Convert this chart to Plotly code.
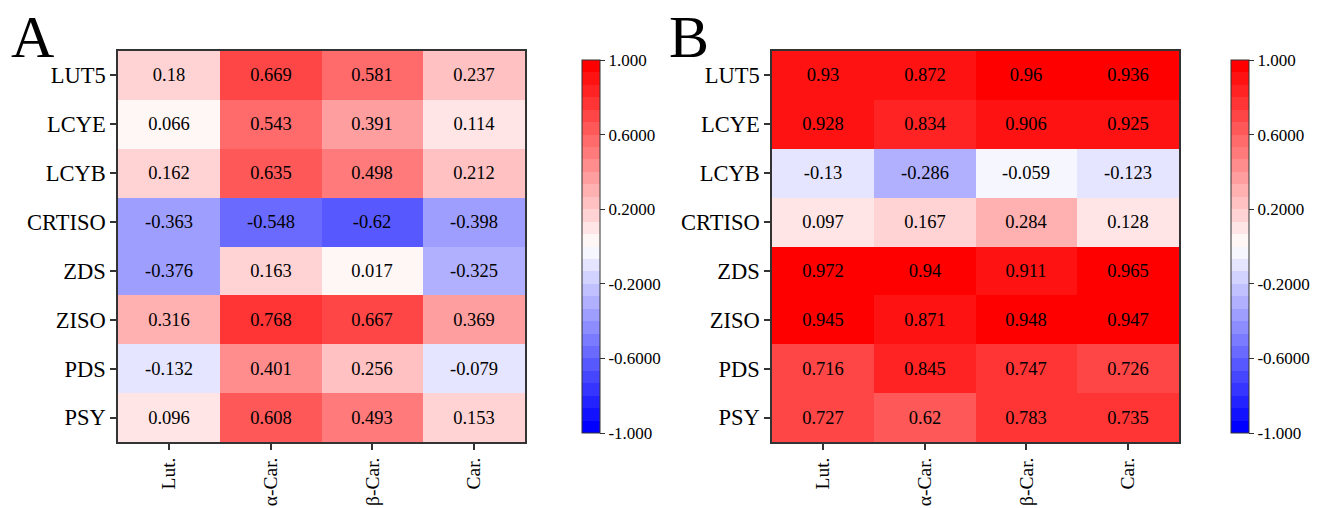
import plotly.graph_objects as go

genes = ["LUT5", "LCYE", "LCYB", "CRTISO", "ZDS", "ZISO", "PDS", "PSY"]
traits = ["Lut.", "α-Car.", "β-Car.", "Car."]

values_a = [
    [0.18, 0.669, 0.581, 0.237],
    [0.066, 0.543, 0.391, 0.114],
    [0.162, 0.635, 0.498, 0.212],
    [-0.363, -0.548, -0.62, -0.398],
    [-0.376, 0.163, 0.017, -0.325],
    [0.316, 0.768, 0.667, 0.369],
    [-0.132, 0.401, 0.256, -0.079],
    [0.096, 0.608, 0.493, 0.153],
]
values_b = [
    [0.93, 0.872, 0.96, 0.936],
    [0.928, 0.834, 0.906, 0.925],
    [-0.13, -0.286, -0.059, -0.123],
    [0.097, 0.167, 0.284, 0.128],
    [0.972, 0.94, 0.911, 0.965],
    [0.945, 0.871, 0.948, 0.947],
    [0.716, 0.845, 0.747, 0.726],
    [0.727, 0.62, 0.783, 0.735],
]
cbar_vals = [1, 0.6, 0.2, -0.2, -0.6, -1]
cbar_text = ["1.000", "0.6000", "0.2000", "-0.2000", "-0.6000", "-1.000"]
panel_letters = ["A", "B"]

FONT = "Liberation Serif, Times New Roman, serif"
W, H = 1321, 508

# stepped blue-white-red colorscale with 30 levels
N = 30
scale = []
for i in range(N):
    p = i / (N - 1)
    v = 2 * p - 1
    if v >= 0:
        c = int(round(255 * (1 - v)))
        col = f"rgb(255,{c},{c})"
    else:
        c = int(round(255 * (1 + v)))
        col = f"rgb({c},{c},255)"
    scale.append([i / N, col])
    scale.append([(i + 1) / N, col])

fig = go.Figure()

panels = [
    dict(z=values_a, cbx=582, xa="x", ya="y"),
    dict(z=values_b, cbx=1231, xa="x2", ya="y2"),
]
top_px, bot_px = 51, 442
cb_top, cb_bot = 50, 443

for p in panels:
    text = [[str(v) for v in row] for row in p["z"]]
    fig.add_trace(go.Heatmap(
        z=p["z"], x=traits, y=genes, text=text, texttemplate="%{text}",
        textfont=dict(family=FONT, size=18.5, color="black"),
        colorscale=scale, zmin=-1, zmax=1,
        xaxis=p["xa"], yaxis=p["ya"], hoverinfo="skip",
        colorbar=dict(
            x=p["cbx"] / W, xanchor="left", xpad=0,
            y=1 - (cb_top + cb_bot) / 2 / H, yanchor="middle",
            len=(cb_bot - cb_top) / H, lenmode="fraction",
            thickness=18, outlinewidth=1, outlinecolor="#333",
            tickvals=cbar_vals, ticktext=cbar_text,
            ticks="outside", ticklen=5, tickcolor="#333",
            tickfont=dict(family=FONT, size=17, color="black"),
        ),
    ))

axis_common = dict(showline=True, mirror=True, linecolor="#333", linewidth=1.5,
                   ticks="outside", ticklen=6, tickwidth=1.5, tickcolor="#333",
                   showgrid=False, zeroline=False, automargin=False)
yfont = dict(family=FONT, size=22.5, color="black")
xfont = dict(family=FONT, size=19.5, color="black")

ydom = [1 - bot_px / H, 1 - top_px / H]
fig.update_layout(
    width=W, height=H, margin=dict(l=0, r=0, t=0, b=0),
    paper_bgcolor="white", plot_bgcolor="white",
    xaxis=dict(domain=[118 / W, 525 / W], anchor="y", tickangle=-90, tickfont=xfont, **axis_common),
    yaxis=dict(domain=ydom, anchor="x", autorange="reversed", tickfont=yfont, **axis_common),
    xaxis2=dict(domain=[772 / W, 1179 / W], anchor="y2", tickangle=-90, tickfont=xfont, **axis_common),
    yaxis2=dict(domain=ydom, anchor="x2", autorange="reversed", tickfont=yfont, **axis_common),
)

for letter, xpx in zip(panel_letters, [9, 667]):
    fig.add_annotation(text=letter, x=xpx / W, y=1 - 37 / H, xref="paper", yref="paper",
                       xanchor="left", yanchor="middle", showarrow=False,
                       font=dict(family=FONT, size=60, color="black"))

fig.write_html("out.html", config={"displayModeBar": False},
               post_script="document.body.style.margin='0';document.body.style.overflow='hidden';")
